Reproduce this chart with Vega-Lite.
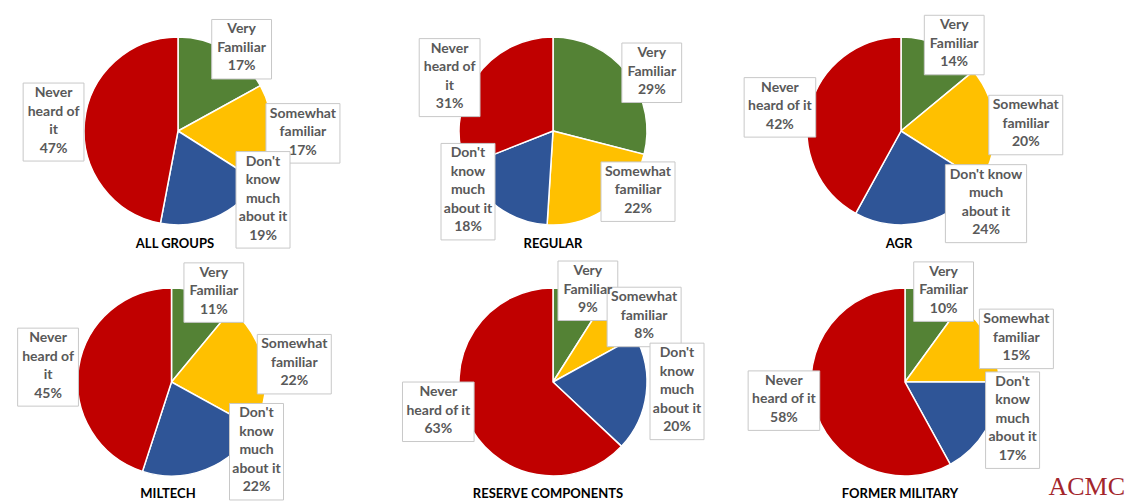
{
  "$schema": "https://vega.github.io/schema/vega-lite/v6.json",
  "padding": {"left": 0, "top": 0, "right": 0, "bottom": 0},
  "autosize": "pad",
  "title": {"text": "ACMC", "orient": "bottom", "anchor": "end", "frame": "bounds", "font": "Liberation Serif", "fontSize": 26, "fontWeight": "normal", "color": "#a3262c", "offset": -30, "dx": -3},
  "data": {"values": [
    {"g": "ALL GROUPS", "rank": 1, "cat": "Very Familiar", "label": "Very\nFamiliar", "value": 17},
    {"g": "ALL GROUPS", "rank": 2, "cat": "Somewhat familiar", "label": "Somewhat\nfamiliar", "value": 17},
    {"g": "ALL GROUPS", "rank": 3, "cat": "Don't know much about it", "label": "Don't\nknow\nmuch\nabout it", "value": 19},
    {"g": "ALL GROUPS", "rank": 4, "cat": "Never heard of it", "label": "Never\nheard of\nit", "value": 47},
    {"g": "REGULAR", "rank": 1, "cat": "Very Familiar", "label": "Very\nFamiliar", "value": 29},
    {"g": "REGULAR", "rank": 2, "cat": "Somewhat familiar", "label": "Somewhat\nfamiliar", "value": 22},
    {"g": "REGULAR", "rank": 3, "cat": "Don't know much about it", "label": "Don't\nknow\nmuch\nabout it", "value": 18},
    {"g": "REGULAR", "rank": 4, "cat": "Never heard of it", "label": "Never\nheard of\nit", "value": 31},
    {"g": "AGR", "rank": 1, "cat": "Very Familiar", "label": "Very\nFamiliar", "value": 14},
    {"g": "AGR", "rank": 2, "cat": "Somewhat familiar", "label": "Somewhat\nfamiliar", "value": 20},
    {"g": "AGR", "rank": 3, "cat": "Don't know much about it", "label": "Don't know\nmuch\nabout it", "value": 24},
    {"g": "AGR", "rank": 4, "cat": "Never heard of it", "label": "Never\nheard of it", "value": 42},
    {"g": "MILTECH", "rank": 1, "cat": "Very Familiar", "label": "Very\nFamiliar", "value": 11},
    {"g": "MILTECH", "rank": 2, "cat": "Somewhat familiar", "label": "Somewhat\nfamiliar", "value": 22},
    {"g": "MILTECH", "rank": 3, "cat": "Don't know much about it", "label": "Don't\nknow\nmuch\nabout it", "value": 22},
    {"g": "MILTECH", "rank": 4, "cat": "Never heard of it", "label": "Never\nheard of\nit", "value": 45},
    {"g": "RESERVE COMPONENTS", "rank": 1, "cat": "Very Familiar", "label": "Very\nFamiliar", "value": 9},
    {"g": "RESERVE COMPONENTS", "rank": 2, "cat": "Somewhat familiar", "label": "Somewhat\nfamiliar", "value": 8},
    {"g": "RESERVE COMPONENTS", "rank": 3, "cat": "Don't know much about it", "label": "Don't\nknow\nmuch\nabout it", "value": 20},
    {"g": "RESERVE COMPONENTS", "rank": 4, "cat": "Never heard of it", "label": "Never\nheard of it", "value": 63},
    {"g": "FORMER MILITARY", "rank": 1, "cat": "Very Familiar", "label": "Very\nFamiliar", "value": 10},
    {"g": "FORMER MILITARY", "rank": 2, "cat": "Somewhat familiar", "label": "Somewhat\nfamiliar", "value": 15},
    {"g": "FORMER MILITARY", "rank": 3, "cat": "Don't know much about it", "label": "Don't\nknow\nmuch\nabout it", "value": 17},
    {"g": "FORMER MILITARY", "rank": 4, "cat": "Never heard of it", "label": "Never\nheard of it", "value": 58}
  ]},
  "transform": [
    {"stack": "value", "groupby": ["g"], "sort": [{"field": "rank", "order": "ascending"}], "as": ["v0", "v1"]},
    {"calculate": "PI*(datum.v0+datum.v1)/100", "as": "m"},
    {"calculate": "sin(datum.m)", "as": "s"},
    {"calculate": "cos(datum.m)", "as": "c"},
    {"calculate": "datum.c > 0 ? 95*datum.c : 75*datum.c", "as": "ly"},
    {"calculate": "datum.c < 0 ? (datum.s >= 0 ? max(125*datum.s, 85) : min(125*datum.s, -85)) : 125*datum.s", "as": "lx"},
    {"calculate": "datum.label + '\\n' + datum.value + '%'", "as": "txt"},
    {"calculate": "split(datum.txt, '\\n')", "as": "lines"},
    {"calculate": "length(datum.lines)", "as": "nl"},
    {"calculate": "datum.lines[0] || ''", "as": "l0"},
    {"calculate": "datum.lines[1] || ''", "as": "l1"},
    {"calculate": "datum.lines[2] || ''", "as": "l2"},
    {"calculate": "datum.lines[3] || ''", "as": "l3"},
    {"calculate": "7.4*length(datum.l0) + 4.3*length(replace(datum.l0, regexp('[^mw%DN]','g'), '')) - 3.8*length(replace(datum.l0, regexp(\"[^ilt' ]\",'g'), '')) - 2.3*length(replace(datum.l0, regexp('[^rf]','g'), ''))", "as": "w0"},
    {"calculate": "7.4*length(datum.l1) + 4.3*length(replace(datum.l1, regexp('[^mw%DN]','g'), '')) - 3.8*length(replace(datum.l1, regexp(\"[^ilt' ]\",'g'), '')) - 2.3*length(replace(datum.l1, regexp('[^rf]','g'), ''))", "as": "w1"},
    {"calculate": "7.4*length(datum.l2) + 4.3*length(replace(datum.l2, regexp('[^mw%DN]','g'), '')) - 3.8*length(replace(datum.l2, regexp(\"[^ilt' ]\",'g'), '')) - 2.3*length(replace(datum.l2, regexp('[^rf]','g'), ''))", "as": "w2"},
    {"calculate": "7.4*length(datum.l3) + 4.3*length(replace(datum.l3, regexp('[^mw%DN]','g'), '')) - 3.8*length(replace(datum.l3, regexp(\"[^ilt' ]\",'g'), '')) - 2.3*length(replace(datum.l3, regexp('[^rf]','g'), ''))", "as": "w3"},
    {"calculate": "max(datum.w0, datum.w1, datum.w2, datum.w3) + 10", "as": "bw"},
    {"calculate": "datum.nl*18.5 + 4", "as": "bh"},
    {"calculate": "datum.lx - datum.bw/2", "as": "bx1"},
    {"calculate": "datum.lx + datum.bw/2", "as": "bx2"},
    {"calculate": "datum.ly - datum.bh/2", "as": "by1"},
    {"calculate": "datum.ly + datum.bh/2", "as": "by2"}
  ],
  "columns": 3,
  "align": "none",
  "bounds": "flush",
  "spacing": {"row": 0, "column": 0},
  "concat": [
      {"width": 376, "height": 250, "title": {"text": "ALL GROUPS", "offset": -12, "dx": -13},
       "transform": [{"filter": "datum.g == 'ALL GROUPS'"}],
       "layer": [
         {"mark": {"type": "arc", "outerRadius": 94, "stroke": "white", "strokeWidth": 1.5},
          "encoding": {"x": {"datum": 0, "type": "quantitative", "axis": null, "scale": {"domain": [-178, 198], "nice": false, "zero": false}},
            "y": {"datum": 0, "type": "quantitative", "axis": null, "scale": {"domain": [-119, 131], "nice": false, "zero": false}},
            "theta": {"field": "v0", "type": "quantitative", "scale": {"domain": [0, 100]}}, "theta2": {"field": "v1"},
            "color": {"field": "cat", "type": "nominal", "legend": null, "scale": {"domain": ["Very Familiar", "Somewhat familiar", "Don't know much about it", "Never heard of it"], "range": ["#548235", "#FFC000", "#2F5597", "#C00000"]}}}},
         {"mark": {"type": "rect", "fill": "white", "stroke": "#c8c8c8", "strokeWidth": 1},
          "encoding": {"x": {"field": "bx1", "type": "quantitative", "axis": null, "scale": {"domain": [-178, 198], "nice": false, "zero": false}}, "x2": {"field": "bx2"},
            "y": {"field": "by1", "type": "quantitative", "axis": null, "scale": {"domain": [-119, 131], "nice": false, "zero": false}}, "y2": {"field": "by2"}}},
         {"mark": {"type": "text", "lineBreak": "\n", "font": "Lato", "fontSize": 14, "fontWeight": "bold", "fill": "#595959", "lineHeight": 18.5, "align": "center", "baseline": "top", "dy": 3},
          "encoding": {"x": {"field": "lx", "type": "quantitative", "axis": null}, "y": {"field": "by2", "type": "quantitative", "axis": null}, "text": {"field": "txt"}}}
       ]},
      {"width": 376, "height": 250, "title": {"text": "REGULAR", "offset": -12, "dx": -11},
       "transform": [{"filter": "datum.g == 'REGULAR'"}],
       "layer": [
         {"mark": {"type": "arc", "outerRadius": 94, "stroke": "white", "strokeWidth": 1.5},
          "encoding": {"x": {"datum": 0, "type": "quantitative", "axis": null, "scale": {"domain": [-177, 199], "nice": false, "zero": false}},
            "y": {"datum": 0, "type": "quantitative", "axis": null, "scale": {"domain": [-119, 131], "nice": false, "zero": false}},
            "theta": {"field": "v0", "type": "quantitative", "scale": {"domain": [0, 100]}}, "theta2": {"field": "v1"},
            "color": {"field": "cat", "type": "nominal", "legend": null, "scale": {"domain": ["Very Familiar", "Somewhat familiar", "Don't know much about it", "Never heard of it"], "range": ["#548235", "#FFC000", "#2F5597", "#C00000"]}}}},
         {"mark": {"type": "rect", "fill": "white", "stroke": "#c8c8c8", "strokeWidth": 1},
          "encoding": {"x": {"field": "bx1", "type": "quantitative", "axis": null, "scale": {"domain": [-177, 199], "nice": false, "zero": false}}, "x2": {"field": "bx2"},
            "y": {"field": "by1", "type": "quantitative", "axis": null, "scale": {"domain": [-119, 131], "nice": false, "zero": false}}, "y2": {"field": "by2"}}},
         {"mark": {"type": "text", "lineBreak": "\n", "font": "Lato", "fontSize": 14, "fontWeight": "bold", "fill": "#595959", "lineHeight": 18.5, "align": "center", "baseline": "top", "dy": 3},
          "encoding": {"x": {"field": "lx", "type": "quantitative", "axis": null}, "y": {"field": "by2", "type": "quantitative", "axis": null}, "text": {"field": "txt"}}}
       ]},
      {"width": 376, "height": 250, "title": {"text": "AGR", "offset": -12, "dx": -41},
       "transform": [{"filter": "datum.g == 'AGR'"}],
       "layer": [
         {"mark": {"type": "arc", "outerRadius": 94, "stroke": "white", "strokeWidth": 1.5},
          "encoding": {"x": {"datum": 0, "type": "quantitative", "axis": null, "scale": {"domain": [-149, 227], "nice": false, "zero": false}},
            "y": {"datum": 0, "type": "quantitative", "axis": null, "scale": {"domain": [-119, 131], "nice": false, "zero": false}},
            "theta": {"field": "v0", "type": "quantitative", "scale": {"domain": [0, 100]}}, "theta2": {"field": "v1"},
            "color": {"field": "cat", "type": "nominal", "legend": null, "scale": {"domain": ["Very Familiar", "Somewhat familiar", "Don't know much about it", "Never heard of it"], "range": ["#548235", "#FFC000", "#2F5597", "#C00000"]}}}},
         {"mark": {"type": "rect", "fill": "white", "stroke": "#c8c8c8", "strokeWidth": 1},
          "encoding": {"x": {"field": "bx1", "type": "quantitative", "axis": null, "scale": {"domain": [-149, 227], "nice": false, "zero": false}}, "x2": {"field": "bx2"},
            "y": {"field": "by1", "type": "quantitative", "axis": null, "scale": {"domain": [-119, 131], "nice": false, "zero": false}}, "y2": {"field": "by2"}}},
         {"mark": {"type": "text", "lineBreak": "\n", "font": "Lato", "fontSize": 14, "fontWeight": "bold", "fill": "#595959", "lineHeight": 18.5, "align": "center", "baseline": "top", "dy": 3},
          "encoding": {"x": {"field": "lx", "type": "quantitative", "axis": null}, "y": {"field": "by2", "type": "quantitative", "axis": null}, "text": {"field": "txt"}}}
       ]},
      {"width": 376, "height": 254, "title": {"text": "MILTECH", "offset": -16, "dx": -20},
       "transform": [{"filter": "datum.g == 'MILTECH'"}],
       "layer": [
         {"mark": {"type": "arc", "outerRadius": 94, "stroke": "white", "strokeWidth": 1.5},
          "encoding": {"x": {"datum": 0, "type": "quantitative", "axis": null, "scale": {"domain": [-171.5, 204.5], "nice": false, "zero": false}},
            "y": {"datum": 0, "type": "quantitative", "axis": null, "scale": {"domain": [-122, 132], "nice": false, "zero": false}},
            "theta": {"field": "v0", "type": "quantitative", "scale": {"domain": [0, 100]}}, "theta2": {"field": "v1"},
            "color": {"field": "cat", "type": "nominal", "legend": null, "scale": {"domain": ["Very Familiar", "Somewhat familiar", "Don't know much about it", "Never heard of it"], "range": ["#548235", "#FFC000", "#2F5597", "#C00000"]}}}},
         {"mark": {"type": "rect", "fill": "white", "stroke": "#c8c8c8", "strokeWidth": 1},
          "encoding": {"x": {"field": "bx1", "type": "quantitative", "axis": null, "scale": {"domain": [-171.5, 204.5], "nice": false, "zero": false}}, "x2": {"field": "bx2"},
            "y": {"field": "by1", "type": "quantitative", "axis": null, "scale": {"domain": [-122, 132], "nice": false, "zero": false}}, "y2": {"field": "by2"}}},
         {"mark": {"type": "text", "lineBreak": "\n", "font": "Lato", "fontSize": 14, "fontWeight": "bold", "fill": "#595959", "lineHeight": 18.5, "align": "center", "baseline": "top", "dy": 3},
          "encoding": {"x": {"field": "lx", "type": "quantitative", "axis": null}, "y": {"field": "by2", "type": "quantitative", "axis": null}, "text": {"field": "txt"}}}
       ]},
      {"width": 376, "height": 254, "title": {"text": "RESERVE COMPONENTS", "offset": -16, "dx": -16},
       "transform": [{"filter": "datum.g == 'RESERVE COMPONENTS'"}],
       "layer": [
         {"mark": {"type": "arc", "outerRadius": 94, "stroke": "white", "strokeWidth": 1.5},
          "encoding": {"x": {"datum": 0, "type": "quantitative", "axis": null, "scale": {"domain": [-177, 199], "nice": false, "zero": false}},
            "y": {"datum": 0, "type": "quantitative", "axis": null, "scale": {"domain": [-122, 132], "nice": false, "zero": false}},
            "theta": {"field": "v0", "type": "quantitative", "scale": {"domain": [0, 100]}}, "theta2": {"field": "v1"},
            "color": {"field": "cat", "type": "nominal", "legend": null, "scale": {"domain": ["Very Familiar", "Somewhat familiar", "Don't know much about it", "Never heard of it"], "range": ["#548235", "#FFC000", "#2F5597", "#C00000"]}}}},
         {"mark": {"type": "rect", "fill": "white", "stroke": "#c8c8c8", "strokeWidth": 1},
          "encoding": {"x": {"field": "bx1", "type": "quantitative", "axis": null, "scale": {"domain": [-177, 199], "nice": false, "zero": false}}, "x2": {"field": "bx2"},
            "y": {"field": "by1", "type": "quantitative", "axis": null, "scale": {"domain": [-122, 132], "nice": false, "zero": false}}, "y2": {"field": "by2"}}},
         {"mark": {"type": "text", "lineBreak": "\n", "font": "Lato", "fontSize": 14, "fontWeight": "bold", "fill": "#595959", "lineHeight": 18.5, "align": "center", "baseline": "top", "dy": 3},
          "encoding": {"x": {"field": "lx", "type": "quantitative", "axis": null}, "y": {"field": "by2", "type": "quantitative", "axis": null}, "text": {"field": "txt"}}}
       ]},
      {"width": 376, "height": 254, "title": {"text": "FORMER MILITARY", "offset": -16, "dx": -40},
       "transform": [{"filter": "datum.g == 'FORMER MILITARY'"}],
       "layer": [
         {"mark": {"type": "arc", "outerRadius": 94, "stroke": "white", "strokeWidth": 1.5},
          "encoding": {"x": {"datum": 0, "type": "quantitative", "axis": null, "scale": {"domain": [-153, 223], "nice": false, "zero": false}},
            "y": {"datum": 0, "type": "quantitative", "axis": null, "scale": {"domain": [-122, 132], "nice": false, "zero": false}},
            "theta": {"field": "v0", "type": "quantitative", "scale": {"domain": [0, 100]}}, "theta2": {"field": "v1"},
            "color": {"field": "cat", "type": "nominal", "legend": null, "scale": {"domain": ["Very Familiar", "Somewhat familiar", "Don't know much about it", "Never heard of it"], "range": ["#548235", "#FFC000", "#2F5597", "#C00000"]}}}},
         {"mark": {"type": "rect", "fill": "white", "stroke": "#c8c8c8", "strokeWidth": 1},
          "encoding": {"x": {"field": "bx1", "type": "quantitative", "axis": null, "scale": {"domain": [-153, 223], "nice": false, "zero": false}}, "x2": {"field": "bx2"},
            "y": {"field": "by1", "type": "quantitative", "axis": null, "scale": {"domain": [-122, 132], "nice": false, "zero": false}}, "y2": {"field": "by2"}}},
         {"mark": {"type": "text", "lineBreak": "\n", "font": "Lato", "fontSize": 14, "fontWeight": "bold", "fill": "#595959", "lineHeight": 18.5, "align": "center", "baseline": "top", "dy": 3},
          "encoding": {"x": {"field": "lx", "type": "quantitative", "axis": null}, "y": {"field": "by2", "type": "quantitative", "axis": null}, "text": {"field": "txt"}}}
       ]}
  ],
  "config": {
    "view": {"stroke": null},
    "title": {"font": "Lato", "fontSize": 13, "fontWeight": "bold", "color": "#000000", "orient": "bottom", "anchor": "middle", "frame": "group"}
  }
}
